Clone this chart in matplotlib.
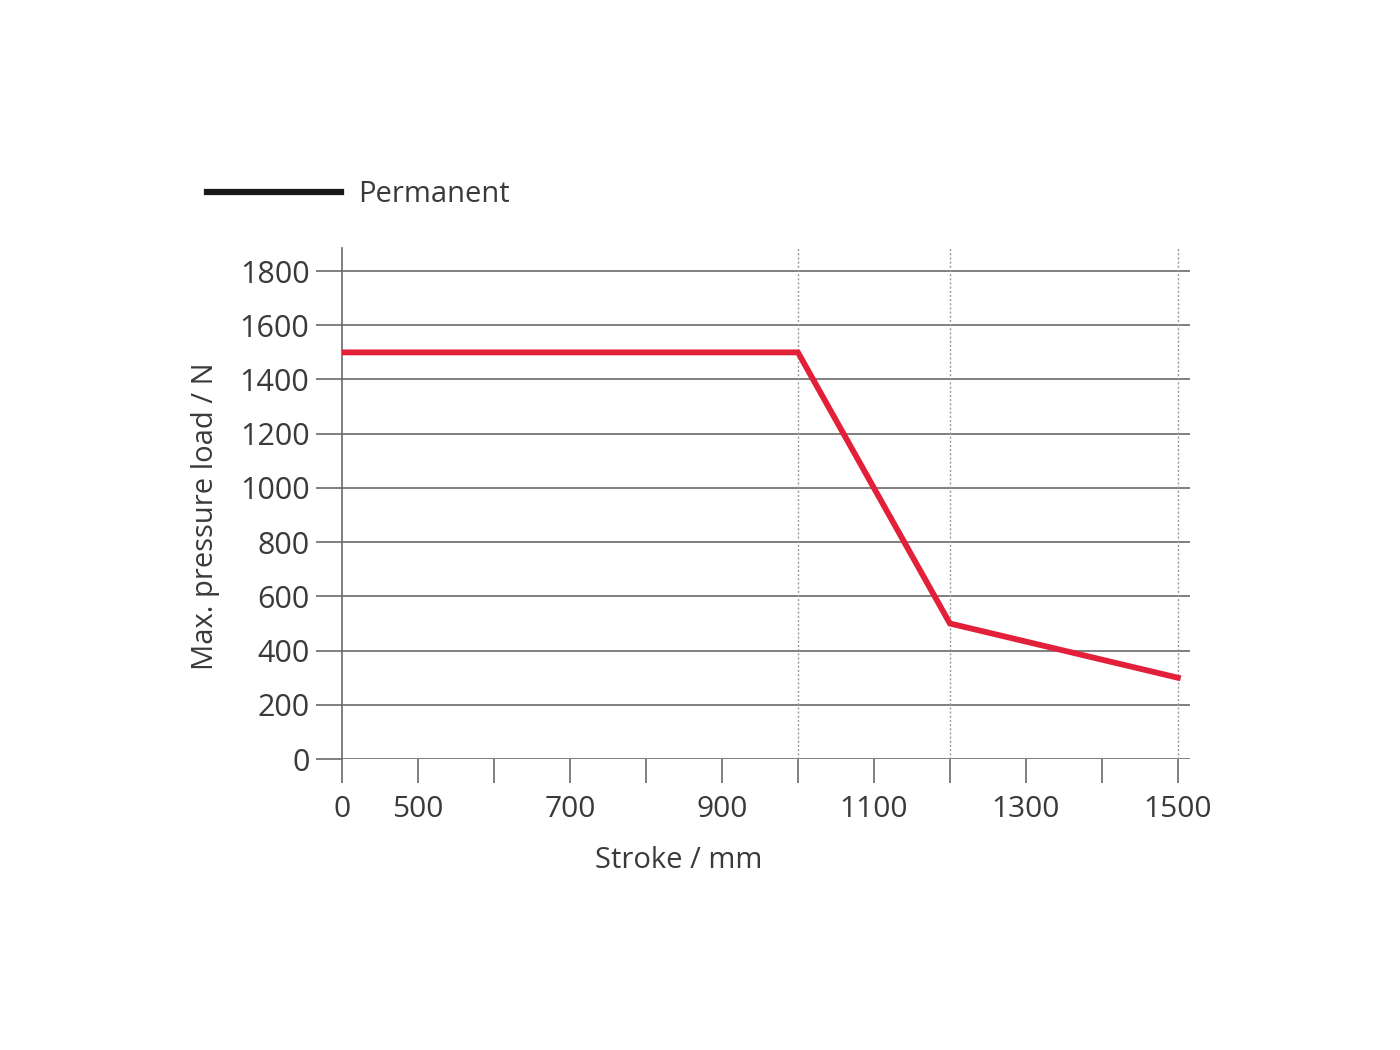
import matplotlib
matplotlib.use("Agg")
import matplotlib.pyplot as plt
from matplotlib.lines import Line2D

# ── Data ──────────────────────────────────────────────────────
stroke_mm   = [400, 1000, 1200, 1500]
load_n      = [1500, 1500, 500, 300]
y_ticks     = [0, 200, 400, 600, 800, 1000, 1200, 1400, 1600, 1800]
x_ticks     = [400, 500, 600, 700, 800, 900, 1000, 1100, 1200, 1300, 1400, 1500]
x_labels    = ["0", "500", "", "700", "", "900", "", "1100", "", "1300", "", "1500"]
break_lines = [1000, 1200, 1500]

plt.rcParams["font.family"] = ["Open Sans", "DejaVu Sans"]
TEXT = "#3a3a3a"
GRID = "#6a6a6a"

fig = plt.figure(figsize=(14, 10.5), dpi=100)
ax = fig.add_axes([0.2443, 0.2771, 0.6057, 0.4867])

# horizontal grid
for y in y_ticks:
    ax.axhline(y, color=GRID, lw=1.2, zorder=1)
# dotted verticals at the break points
for x in break_lines:
    ax.axvline(x, color="#9a9a9a", lw=1.0, ls=(0, (1.5, 1.5)), zorder=1)

ax.plot(stroke_mm, load_n, color="#e3203a", lw=4.2, solid_joinstyle="miter", zorder=3)

ax.set_xlim(400, 1516)
ax.set_ylim(0, 1885)

for side in ["top", "right", "bottom"]:
    ax.spines[side].set_visible(False)
ax.spines["left"].set_color(GRID)
ax.spines["left"].set_linewidth(1.2)

ax.set_yticks(y_ticks)
ax.set_yticklabels([str(v) for v in y_ticks])
ax.set_xticks(x_ticks)
ax.set_xticklabels(x_labels)
ax.tick_params(axis="y", direction="out", length=18.5, width=1.2, color=GRID,
               labelsize=22, labelcolor=TEXT, pad=5)
ax.tick_params(axis="x", direction="out", length=17, width=1.2, color=GRID,
               labelsize=21.5, labelcolor=TEXT, pad=9)

ax.set_xlabel("Stroke / mm", fontsize=21, color=TEXT)
ax.xaxis.set_label_coords(0.397, -0.17)
ax.set_ylabel("Max. pressure load / N", fontsize=21, color=TEXT)
ax.yaxis.set_label_coords(-0.144, 0.476)

# legend
handle = Line2D([], [], color="#1a1a1a", lw=4.5)
fig.legend(handles=[handle], labels=["Permanent"], loc="center left",
           bbox_to_anchor=(0.129, 0.815), frameon=False, fontsize=21,
           handlelength=4.6, handletextpad=0.6, labelcolor=TEXT)

fig.savefig("out.png", dpi=100, facecolor="white")
